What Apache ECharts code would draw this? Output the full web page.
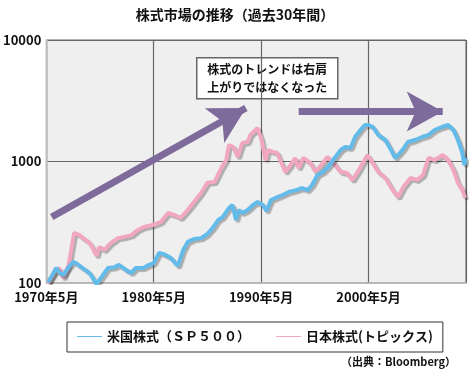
<!DOCTYPE html>
<html>
<head>
<meta charset="utf-8">
<script src="https://cdn.jsdelivr.net/npm/echarts@6/dist/echarts.min.js"></script>
<style>
html,body{margin:0;padding:0;background:#fff;}
#c{width:470px;height:375px;}
</style>
</head>
<body>
<div id="c"></div>
<script>
var titleText = '株式市場の推移（過去30年間）';
var seriesNames = ['米国株式（ＳＰ５００）', '日本株式(トピックス)'];
var sourceText = '（出典：Bloomberg）';
var noteLines = ['株式のトレンドは右肩', '上がりではなくなった'];
var yTicks = [100, 1000, 10000];
var xTickYears = ['1970', '1980', '1990', '2000'];

var usDates = ['1970-07','1971-01','1971-04','1971-07','1971-12','1972-06','1972-11','1973-02','1973-08','1974-04','1974-07','1975-01','1975-06','1976-02','1976-09','1977-02','1977-10','1978-04','1978-09','1979-05','1979-12','1980-05','1980-11','1981-04','1981-12','1982-08','1983-02','1983-07','1984-02','1984-10','1985-05','1985-11','1986-05','1986-10','1987-05','1987-09','1988-01','1988-04','1988-08','1989-02','1989-08','1990-01','1990-07','1990-11','1991-04','1991-09','1992-05','1992-12','1993-08','1994-03','1994-09','1995-02','1995-08','1996-02','1996-08','1997-04','1997-10','1998-03','1998-09','1999-02','1999-08','2000-01','2000-05','2000-10','2001-04','2001-12','2002-05','2002-11','2003-07','2004-01','2004-09','2005-05','2005-12','2006-07','2007-03','2007-10','2008-04','2008-09','2009-02','2009-04','2009-06'];
var usValues = [102,121,133,123,116,135,149,146,135,123,116,98,110,133,135,141,128,121,133,133,141,146,177,173,161,138,187,218,230,234,253,284,330,349,414,439,330,399,377,399,439,464,439,392,482,501,530,561,582,605,582,641,774,820,901,1089,1243,1316,1291,1591,1816,1997,1997,1923,1652,1503,1291,1069,1243,1447,1503,1591,1652,1816,1923,1997,1816,1503,1175,936,1069];

var jpDates = ['1970-07','1971-02','1971-07','1971-12','1972-06','1972-12','1973-06','1973-10','1974-04','1974-07','1975-01','1975-04','1975-10','1976-05','1977-01','1977-08','1978-04','1978-11','1979-06','1980-04','1981-01','1981-09','1982-04','1982-11','1983-07','1984-02','1984-10','1985-05','1986-01','1986-08','1987-02','1987-05','1987-10','1988-03','1988-08','1989-02','1989-05','1990-01','1990-05','1990-10','1991-01','1991-06','1991-11','1992-08','1993-02','1993-07','1993-11','1994-04','1994-12','1995-06','1996-02','1996-07','1997-02','1997-10','1998-05','1998-11','1999-05','1999-10','2000-04','2000-09','2001-04','2001-12','2002-08','2003-02','2003-08','2004-04','2004-11','2005-06','2005-12','2006-07','2007-04','2007-10','2008-04','2008-09','2009-02','2009-05'];
var jpValues = [100,121,133,110,141,258,248,234,218,205,167,198,187,213,234,239,248,273,289,300,318,377,363,343,399,464,550,670,678,870,1029,1367,1316,1089,1420,1447,1652,1887,1561,1029,1243,1200,1175,820,936,1069,884,1069,972,820,972,1089,972,820,804,704,820,955,1131,991,820,732,582,510,617,732,704,774,1069,1029,1131,1029,851,665,582,501];

// trend arrows: [startDate, startValue, endDate, endValue]
var arrowUp = ['1970-11', 349, '1988-12', 2757];
var arrowFlat = ['1993-11', 2579, '2007-04', 2579];

function toMonth(s) {
  var p = s.split('-');
  return (parseInt(p[0], 10) - 1970) * 12 + (parseInt(p[1], 10) - 5);
}
function pairs(d, v) {
  return d.map(function (s, i) { return [toMonth(s), v[i]]; });
}

var chart = echarts.init(document.getElementById('c'), null, {renderer: 'canvas'});
var FONT = '"Noto Sans CJK JP", "Noto Sans", sans-serif';
var purple = '#7e6b9c';
var shadow = {shadowColor: 'rgba(0,0,0,0.28)', shadowOffsetX: 2, shadowOffsetY: 2, shadowBlur: 1};

chart.setOption({
  animation: false,
  title: {
    text: titleText, left: 'center', top: 3,
    textStyle: {fontFamily: FONT, fontSize: 14, fontWeight: 'bold', color: '#111'}
  },
  grid: {
    left: 45, top: 40, right: 4, bottom: 92,
    show: true, backgroundColor: '#efefef', borderColor: '#666', borderWidth: 1
  },
  legend: {
    left: 67, top: 322,
    padding: [8, 10, 9, 10],
    borderColor: '#333', borderWidth: 1,
    itemGap: 26, itemWidth: 25, itemHeight: 1, icon: 'rect',
    textStyle: {fontFamily: FONT, fontSize: 13, fontWeight: 'bold', color: '#111'},
    data: seriesNames
  },
  xAxis: {
    type: 'value', min: 0, max: 469, interval: 120,
    axisLine: {show: true, lineStyle: {color: '#bbb', width: 1.5}},
    axisTick: {show: false},
    axisLabel: {
      showMaxLabel: false, margin: 8,
      fontFamily: FONT, fontSize: 13, fontWeight: 'bold', color: '#111',
      formatter: function (v) {
        if (v % 120 !== 0) return '';
        return xTickYears[v / 120] + '年5月';
      }
    },
    splitLine: {show: true, lineStyle: {color: ['#bbb', '#666', '#666', '#666', '#666'], width: 1.2}}
  },
  yAxis: {
    type: 'log', logBase: 10, min: yTicks[0], max: yTicks[yTicks.length - 1],
    axisLine: {show: true, lineStyle: {color: '#bbb', width: 1.5}},
    axisTick: {show: false},
    axisLabel: {
      margin: 5, fontFamily: FONT, fontSize: 13, fontWeight: 'bold', color: '#111',
      formatter: function (v) { return String(Math.round(v)); }
    },
    splitLine: {show: true, lineStyle: {color: ['#bbb', '#666', '#666'], width: 1.2}}
  },
  series: [
    {
      name: seriesNames[0], type: 'line', data: pairs(usDates, usValues),
      showSymbol: false, symbol: 'none', z: 3,
      color: '#63bbea',
      lineStyle: Object.assign({color: '#63bbea', width: 4}, shadow)
    },
    {
      name: seriesNames[1], type: 'line', data: pairs(jpDates, jpValues),
      showSymbol: false, symbol: 'none', z: 2,
      color: '#f2a7c0',
      lineStyle: Object.assign({color: '#f2a7c0', width: 4}, shadow),
      markLine: {
        silent: true, animation: false,
        symbol: ['none', 'arrow'], symbolSize: [30, 36],
        label: {show: false},
        lineStyle: {color: purple, width: 7, type: 'solid'},
        data: [
          [{coord: [toMonth(arrowUp[0]), arrowUp[1]]}, {coord: [toMonth(arrowUp[2]), arrowUp[3]]}],
          [{coord: [toMonth(arrowFlat[0]), arrowFlat[1]]}, {coord: [toMonth(arrowFlat[2]), arrowFlat[3]]}]
        ]
      }
    }
  ],
  graphic: [
    {
      type: 'group', left: 196, top: 57, z: 10,
      children: [
        {type: 'rect', shape: {x: 0, y: 0, width: 141, height: 41},
         style: {fill: '#fff', stroke: '#666', lineWidth: 1.5}},
        {type: 'text', x: 70.5, y: 12, style: {text: noteLines[0], align: 'center', verticalAlign: 'middle',
          font: 'bold 12px ' + FONT, fill: '#111'}},
        {type: 'text', x: 70.5, y: 30, style: {text: noteLines[1], align: 'center', verticalAlign: 'middle',
          font: 'bold 12px ' + FONT, fill: '#111'}}
      ]
    },
    {
      type: 'text', right: 14, top: 356, z: 10,
      style: {text: sourceText, font: 'bold 11px ' + FONT, fill: '#111'}
    }
  ]
});
</script>
</body>
</html>
